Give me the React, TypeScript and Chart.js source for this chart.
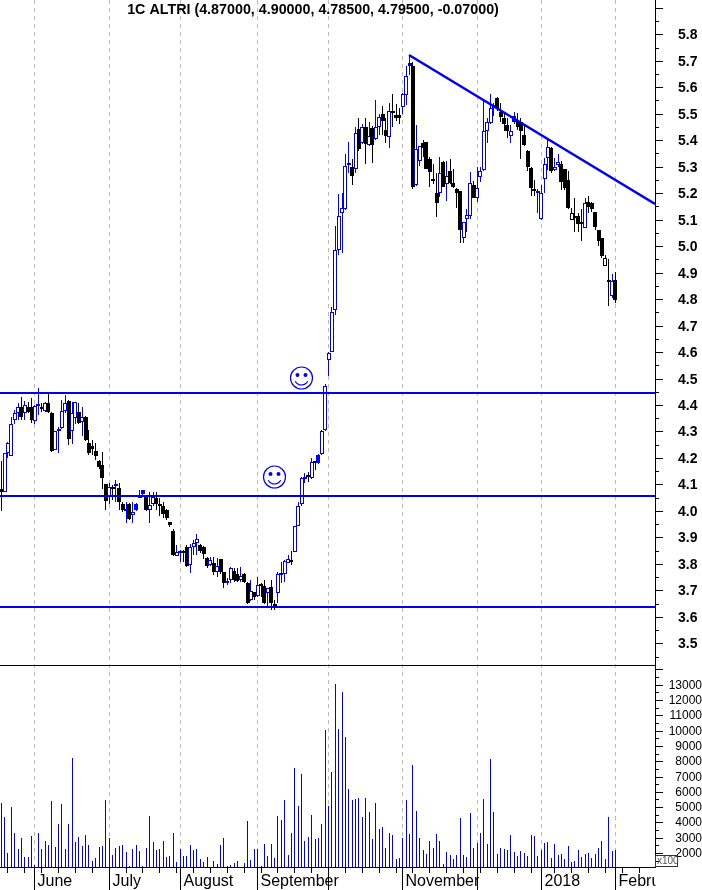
import React, { useEffect, useRef } from "react";
import { Chart, registerables, LinearScale } from "chart.js";

const titleText = "1C ALTRI (4.87000, 4.90000, 4.78500, 4.79500, -0.07000)";

const opens = [
  4.083,4.07,4.22,4.208,4.343,4.371,4.394,4.371,4.394,4.394,
  4.34,4.397,4.394,4.378,4.409,4.368,4.232,4.3,4.312,4.378,
  4.415,4.303,4.35,4.372,4.337,4.356,4.255,4.245,4.226,4.19,
  4.173,4.101,4.056,4.088,4.094,4.088,4.026,4.0,4.026,3.984,
  4.003,4.05,4.064,4.056,4.003,4.028,4.047,4.028,4.02,4.003,
  3.957,3.926,3.831,3.84,3.85,3.863,3.795,3.865,3.88,3.871,
  3.865,3.823,3.795,3.802,3.771,3.817,3.768,3.729,3.739,3.774,
  3.762,3.739,3.761,3.727,3.664,3.693,3.679,3.72,3.717,3.691,
  3.714,3.645,3.689,3.758,3.761,3.805,3.812,3.846,3.944,4.025,
  4.12,4.133,4.123,4.186,4.18,4.215,4.306,4.57,4.602,4.76,
  4.985,5.124,5.139,5.308,5.3,5.29,5.441,5.388,5.449,5.383,
  5.445,5.404,5.451,5.499,5.439,5.411,5.509,5.495,5.495,5.524,
  5.571,5.682,5.681,5.231,5.322,5.388,5.392,5.328,5.252,5.2,
  5.2,5.317,5.234,5.283,5.237,5.215,5.208,5.03,5.103,5.115,
  5.231,5.181,5.26,5.288,5.434,5.464,5.52,5.559,5.508,5.483,
  5.458,5.416,5.47,5.474,5.467,5.42,5.36,5.294,5.212,5.2,
  5.101,5.253,5.332,5.37,5.288,5.307,5.309,5.29,5.25,5.1,
  5.111,5.112,5.09,5.07,5.168,5.162,5.128,5.061,5.03,4.926,
  4.872,4.81,4.872,
];
const highs = [
  4.19,4.22,4.26,4.356,4.38,4.406,4.429,4.416,4.412,4.425,
  4.4,4.463,4.406,4.41,4.441,4.375,4.3,4.318,4.419,4.438,
  4.42,4.412,4.412,4.406,4.394,4.358,4.305,4.268,4.255,4.192,
  4.221,4.101,4.104,4.098,4.117,4.104,4.035,4.035,4.03,4.035,
  4.03,4.08,4.08,4.06,4.072,4.072,4.072,4.047,4.035,4.008,
  3.96,3.93,3.871,3.852,3.852,3.87,3.875,3.89,3.913,3.875,
  3.868,3.825,3.825,3.825,3.821,3.82,3.77,3.745,3.79,3.783,
  3.783,3.79,3.765,3.733,3.739,3.695,3.752,3.727,3.739,3.71,
  3.739,3.664,3.771,3.808,3.815,3.834,3.85,3.945,4.035,4.13,
  4.142,4.146,4.2,4.19,4.215,4.305,4.48,4.6,4.771,5.076,
  5.197,5.2,5.348,5.395,5.33,5.451,5.483,5.461,5.483,5.468,
  5.454,5.552,5.499,5.53,5.485,5.54,5.575,5.536,5.52,5.58,
  5.68,5.722,5.697,5.458,5.38,5.401,5.395,5.336,5.31,5.275,
  5.336,5.32,5.322,5.328,5.29,5.22,5.21,5.092,5.14,5.281,
  5.247,5.3,5.298,5.552,5.483,5.575,5.54,5.562,5.54,5.508,
  5.483,5.458,5.508,5.504,5.483,5.454,5.362,5.297,5.25,5.216,
  5.23,5.332,5.407,5.373,5.332,5.347,5.323,5.292,5.282,5.143,
  5.181,5.124,5.14,5.181,5.19,5.165,5.13,5.062,5.032,4.967,
  4.95,4.895,4.904,
];
const lows = [
  4.0,4.07,4.2,4.208,4.33,4.343,4.343,4.343,4.371,4.333,
  4.33,4.362,4.375,4.375,4.371,4.224,4.23,4.217,4.31,4.37,
  4.249,4.252,4.33,4.328,4.284,4.264,4.21,4.21,4.192,4.16,
  4.082,4.003,4.028,4.041,4.035,4.003,3.997,3.955,3.965,3.955,
  4.0,4.05,4.06,4.0,3.955,4.02,4.003,3.98,3.972,3.965,
  3.94,3.83,3.83,3.808,3.808,3.79,3.767,3.834,3.834,3.84,
  3.817,3.783,3.792,3.758,3.752,3.76,3.708,3.72,3.727,3.733,
  3.73,3.73,3.727,3.65,3.66,3.664,3.676,3.676,3.648,3.642,
  3.626,3.626,3.654,3.727,3.73,3.802,3.796,3.845,3.943,4.02,
  4.104,4.11,4.12,4.155,4.178,4.21,4.3,4.51,4.6,4.74,
  4.966,4.975,5.137,5.275,5.231,5.278,5.361,5.386,5.31,5.38,
  5.315,5.4,5.42,5.42,5.391,5.372,5.449,5.474,5.462,5.499,
  5.533,5.647,5.215,5.227,5.303,5.338,5.29,5.225,5.234,5.111,
  5.187,5.222,5.172,5.235,5.22,5.143,5.011,5.011,5.055,5.103,
  5.18,5.165,5.244,5.285,5.388,5.46,5.49,5.51,5.467,5.436,
  5.407,5.391,5.46,5.439,5.329,5.38,5.282,5.19,5.19,5.124,
  5.1,5.202,5.288,5.278,5.282,5.3,5.212,5.212,5.14,5.098,
  5.055,5.055,5.021,5.068,5.124,5.13,5.061,5.002,4.957,4.925,
  4.774,4.805,4.787,
];
const closes = [
  4.07,4.22,4.255,4.33,4.368,4.394,4.356,4.4,4.375,4.343,
  4.396,4.402,4.386,4.406,4.375,4.226,4.3,4.308,4.378,4.409,
  4.271,4.371,4.41,4.333,4.356,4.268,4.22,4.235,4.207,4.167,
  4.125,4.038,4.089,4.081,4.101,4.035,4.003,4.006,3.97,3.996,
  4.028,4.058,4.079,4.003,4.022,4.054,4.028,4.02,3.988,3.974,
  3.947,3.834,3.844,3.845,3.84,3.792,3.865,3.88,3.893,3.85,
  3.837,3.792,3.815,3.771,3.792,3.771,3.729,3.737,3.783,3.739,
  3.735,3.754,3.733,3.654,3.699,3.674,3.72,3.717,3.651,3.708,
  3.651,3.64,3.762,3.764,3.812,3.817,3.808,3.944,4.02,4.123,
  4.13,4.13,4.186,4.18,4.21,4.303,4.47,4.595,4.752,4.985,
  5.114,5.143,5.302,5.313,5.266,5.426,5.368,5.451,5.385,5.417,
  5.383,5.451,5.489,5.474,5.417,5.512,5.504,5.483,5.485,5.574,
  5.644,5.693,5.225,5.366,5.378,5.372,5.292,5.281,5.247,5.164,
  5.278,5.225,5.265,5.237,5.222,5.2,5.061,5.09,5.118,5.237,
  5.183,5.218,5.283,5.434,5.468,5.521,5.533,5.521,5.487,5.46,
  5.433,5.433,5.49,5.451,5.436,5.382,5.297,5.221,5.208,5.21,
  5.2,5.31,5.373,5.282,5.3,5.319,5.241,5.221,5.143,5.124,
  5.107,5.084,5.084,5.162,5.149,5.14,5.071,5.021,4.963,4.957,
  4.865,4.869,4.795,
];
const volumes = [
  5248,4354,1978,5008,3286,2262,2981,1738,1738,3112,
  1215,3286,2262,2763,2523,5400,2392,3897,5205,2262,
  3897,8191,2719,3046,2458,3177,2523,1477,1673,2392,
  2458,5466,2981,1869,2327,2458,2523,2065,1150,2262,
  2523,2131,1150,2327,4420,2719,2196,2262,2785,1738,
  1804,3308,1411,2262,1804,1804,2523,2196,2262,1608,
  1411,1738,1085,1477,1280,2523,2981,1128,1215,1346,
  1477,1085,1346,4093,1542,2262,2262,1150,2589,1804,
  2589,1673,4420,4158,5466,1869,3308,7537,5074,7167,
  2785,3046,4485,2916,2981,3897,10044,5074,7297,13053,
  10110,12530,9586,6186,5466,5530,5597,4354,5597,4680,
  2916,5270,3570,3700,2327,3308,3177,1608,1673,2981,
  5466,3243,7755,4747,2981,2196,1935,2785,2327,3243,
  2785,1280,2065,1869,1608,1869,4289,1869,1738,4616,
  2327,2654,3308,5530,2589,8148,4680,1935,2327,2262,
  2196,3177,2065,1804,2131,2000,1804,3177,3112,1804,
  2196,2654,2719,1673,2589,1869,1935,1608,2458,1411,
  1477,2196,1738,1935,2000,1673,1935,2327,2785,1608,
  4354,2131,2196,
];

const blueFilled = [40, 42, 83, 94, 121, 146, 152, 159];
const blackHollow = [169, 179];

const monthTicks = [10, 32, 53, 76, 97, 119, 141, 160, 182];
const monthLabels = ["June", "July", "August", "September", "", "November", "", "2018", "Febru"];
const weekTicks = [2,7,12,17,22,27,37,42,47,52,57,62,67,72,77,82,87,92,102,107,112,117,122,127,132,137,142,147,152,157,164,169,174,179,184,189];

const priceTicks = [3.5,3.6,3.7,3.8,3.9,4.0,4.1,4.2,4.3,4.4,4.5,4.6,4.7,4.8,4.9,5.0,5.1,5.2,5.3,5.4,5.5,5.6,5.7,5.8,5.9];
const priceMinorTicks = [3.45,3.55,3.65,3.75,3.85,3.95,4.05,4.15,4.25,4.35,4.45,4.55,4.65,4.75,4.85,4.95,5.05,5.15,5.25,5.35,5.45,5.55,5.65,5.75,5.85];
const volumeTicks = [2000,3000,4000,5000,6000,7000,8000,9000,10000,11000,12000,13000,14000];
const volumeMinorTicks = [1500,2500,3500,4500,5500,6500,7500,8500,9500,10500,11500,12500,13500];

const levelPrices = [4.445, 4.056, 3.639];
const trendStart = { i: 120.9, price: 5.722 };
const trendEnd = { i: 193.8, price: 5.16 };
const smileys = [
  { i: 88.9, price: 4.502 },
  { i: 80.9, price: 4.13 },
];

const BLUE = "#0000ee";
const X_MIN = -0.3556;
const X_MAX = 193.72;
const FONT = "'Liberation Sans', Arial, sans-serif";

// Candle bodies are 4px wide and land on whole pixels; 1px wicks land on half pixels.
class SnapScale extends LinearScale {
  static id = "snapLinear";
  static defaults = LinearScale.defaults;
  getPixelForValue(value: number) {
    const p = super.getPixelForValue(value);
    return (this.options as any).snapHalf ? Math.floor(p) + 0.5 : Math.round(p);
  }
}

Chart.register(...registerables, SnapScale);

const decorations = {
  id: "decorations",
  afterDraw(chart: any) {
    const { ctx, scales } = chart;
    const { x, y, yVol } = scales;
    ctx.save();

    // clip month text at the end of the plot
    ctx.fillStyle = "#fff";
    ctx.fillRect(655.5, 868, 50, 24);

    ctx.strokeStyle = "#000";
    ctx.lineWidth = 1;
    ctx.beginPath();
    // pane divider
    ctx.moveTo(0, yVol.top + 0.5);
    ctx.lineTo(655, yVol.top + 0.5);
    // minor ticks
    for (const v of priceMinorTicks) {
      const p = y.getPixelForValue(v) + 0.5;
      ctx.moveTo(655, p);
      ctx.lineTo(659, p);
    }
    for (const v of volumeMinorTicks) {
      const p = yVol.getPixelForValue(v) + 0.5;
      ctx.moveTo(655, p);
      ctx.lineTo(659, p);
    }
    for (const v of weekTicks) {
      const p = x.getPixelForValue(v);
      ctx.moveTo(p, x.top);
      ctx.lineTo(p, x.top + 6);
    }
    ctx.stroke();

    // title
    ctx.fillStyle = "#000";
    ctx.font = `bold 14.3px ${FONT}`;
    ctx.textAlign = "center";
    ctx.textBaseline = "middle";
    ctx.fillText(titleText, 313, 10);

    // multiplier box
    ctx.strokeStyle = "#333";
    ctx.strokeRect(655.5, 855.5, 22, 11);
    ctx.fillStyle = "#555";
    ctx.font = `10px ${FONT}`;
    ctx.textAlign = "left";
    ctx.fillText("x100", 657, 861.5);

    // smileys
    ctx.strokeStyle = BLUE;
    ctx.fillStyle = BLUE;
    ctx.lineWidth = 1.2;
    for (const s of smileys) {
      const cx = x.getPixelForValue(s.i);
      const cy = y.getPixelForValue(s.price);
      ctx.beginPath();
      ctx.arc(cx, cy, 11, 0, Math.PI * 2);
      ctx.stroke();
      ctx.beginPath();
      ctx.arc(cx, cy, 7, Math.PI * 0.15, Math.PI * 0.85);
      ctx.stroke();
      ctx.beginPath();
      ctx.arc(cx - 4, cy - 3, 2, 0, Math.PI * 2);
      ctx.arc(cx + 4, cy - 3, 2, 0, Math.PI * 2);
      ctx.fill();
    }
    ctx.restore();
  },
};

const fixRightAxis = (axis: any) => {
  axis.width = 47;
  axis.paddingTop = 0;
  axis.paddingBottom = 0;
};

export default function App() {
  const ref = useRef<HTMLCanvasElement | null>(null);

  useEffect(() => {
    document.body.style.margin = "0";
    document.body.style.background = "#fff";
    const idx = opens.map((_, i) => i);
    const isFilledBlue = (i: number) => blueFilled.includes(i);
    const isBlackHollow = (i: number) => blackHollow.includes(i);
    const isUp = (i: number) => closes[i] >= opens[i];
    const lineColor = (i: number) =>
      isBlackHollow(i) || !isUp(i) ? "#000" : BLUE;

    const levelDatasets = levelPrices.map((p) => ({
      type: "line" as const,
      yAxisID: "y",
      xAxisID: "xBody",
      order: 0,
      data: [
        { x: X_MIN, y: p },
        { x: X_MAX, y: p },
      ],
      borderColor: BLUE,
      borderWidth: 2,
      pointRadius: 0,
    }));

    const chart = new Chart(ref.current!, {
      type: "bar",
      data: {
        datasets: [
          ...levelDatasets,
          {
            type: "line",
            yAxisID: "y",
            xAxisID: "xBody",
            order: 0,
            data: [
              { x: trendStart.i, y: trendStart.price },
              { x: trendEnd.i, y: trendEnd.price },
            ],
            borderColor: BLUE,
            borderWidth: 2.5,
            pointRadius: 0,
          },
          {
            yAxisID: "y",
            xAxisID: "xBody",
            order: 1,
            grouped: false,
            barThickness: 4,
            minBarLength: 2,
            inflateAmount: 0,
            borderSkipped: false,
            borderWidth: 1,
            data: idx.map((i) => ({ x: i, y: [opens[i], closes[i]] })),
            backgroundColor: idx.map((i) =>
              isFilledBlue(i) ? BLUE : isBlackHollow(i) || isUp(i) ? "#fff" : "#000"
            ),
            borderColor: idx.map((i) => lineColor(i)),
          },
          {
            yAxisID: "y",
            xAxisID: "x",
            order: 2,
            grouped: false,
            barThickness: 1,
            inflateAmount: 0,
            borderWidth: 0,
            data: idx.map((i) => ({ x: i, y: [lows[i], highs[i]] })),
            backgroundColor: idx.map((i) => lineColor(i)),
          },
          {
            yAxisID: "yVol",
            xAxisID: "x",
            order: 3,
            grouped: false,
            barThickness: 1,
            inflateAmount: 0,
            borderWidth: 0,
            data: idx.map((i) => ({ x: i, y: volumes[i] })),
            backgroundColor: BLUE,
          },
        ],
      } as any,
      plugins: [decorations],
      options: {
        animation: false,
        responsive: false,
        devicePixelRatio: 1,
        layout: { padding: 0 },
        plugins: {
          legend: { display: false },
          tooltip: { enabled: false },
          title: { display: false },
        },
        scales: {
          xBody: {
            type: "snapLinear",
            axis: "x",
            position: "bottom",
            display: false,
            min: X_MIN,
            max: X_MAX,
            offset: false,
            grid: { offset: false },
          },
          x: {
            type: "snapLinear",
            snapHalf: true,
            position: "bottom",
            min: X_MIN,
            max: X_MAX,
            offset: false,
            afterBuildTicks: (axis: any) => {
              axis.ticks = monthTicks.map((v) => ({ value: v }));
            },
            afterFit: (axis: any) => {
              axis.height = 23;
              axis.paddingLeft = 0;
              axis.paddingRight = 0;
            },
            grid: {
              offset: false,
              color: "#bbbbbb",
              lineWidth: 1,
              tickColor: "#000",
              tickLength: 23,
              tickBorderDash: [],
            },
            border: { display: true, color: "#000", width: 1, dash: [4, 4] },
            ticks: {
              autoSkip: false,
              maxRotation: 0,
              minRotation: 0,
              align: "start",
              labelOffset: 3,
              padding: -18,
              color: "#000",
              font: { family: FONT, size: 16 },
              callback: (v: any) => {
                const k = monthTicks.indexOf(Number(v));
                return k >= 0 ? monthLabels[k] : "";
              },
            },
          },
          y: {
            type: "snapLinear",
            position: "right",
            stack: "right",
            stackWeight: 665,
            min: 3.4182,
            max: 5.9295,
            afterBuildTicks: (axis: any) => {
              axis.ticks = priceTicks.map((v) => ({ value: v }));
            },
            afterFit: fixRightAxis,
            grid: {
              drawOnChartArea: false,
              drawTicks: true,
              tickLength: 8,
              tickColor: "#000",
            },
            border: { color: "#000", width: 1 },
            ticks: {
              autoSkip: false,
              padding: 15,
              labelOffset: 1,
              color: "#000",
              font: { family: FONT, size: 14, weight: "bold" },
              callback: (v: any) => (Number(v) > 5.85 ? "" : Number(v).toFixed(1)),
            },
          },
          yVol: {
            type: "snapLinear",
            position: "right",
            stack: "right",
            stackWeight: 202,
            min: 1085,
            max: 14288,
            afterBuildTicks: (axis: any) => {
              axis.ticks = volumeTicks.map((v) => ({ value: v }));
            },
            afterFit: fixRightAxis,
            grid: {
              drawOnChartArea: false,
              drawTicks: true,
              tickLength: 8,
              tickColor: "#000",
            },
            border: { color: "#000", width: 1 },
            ticks: {
              autoSkip: false,
              padding: 3,
              labelOffset: 1,
              crossAlign: "far",
              color: "#000",
              font: { family: FONT, size: 12 },
              callback: (v: any) => (Number(v) > 13500 ? "" : String(v)),
            },
          },
        },
      } as any,
    });
    return () => chart.destroy();
  }, []);

  return <canvas ref={ref} width={702} height={890} style={{ display: "block" }} />;
}
